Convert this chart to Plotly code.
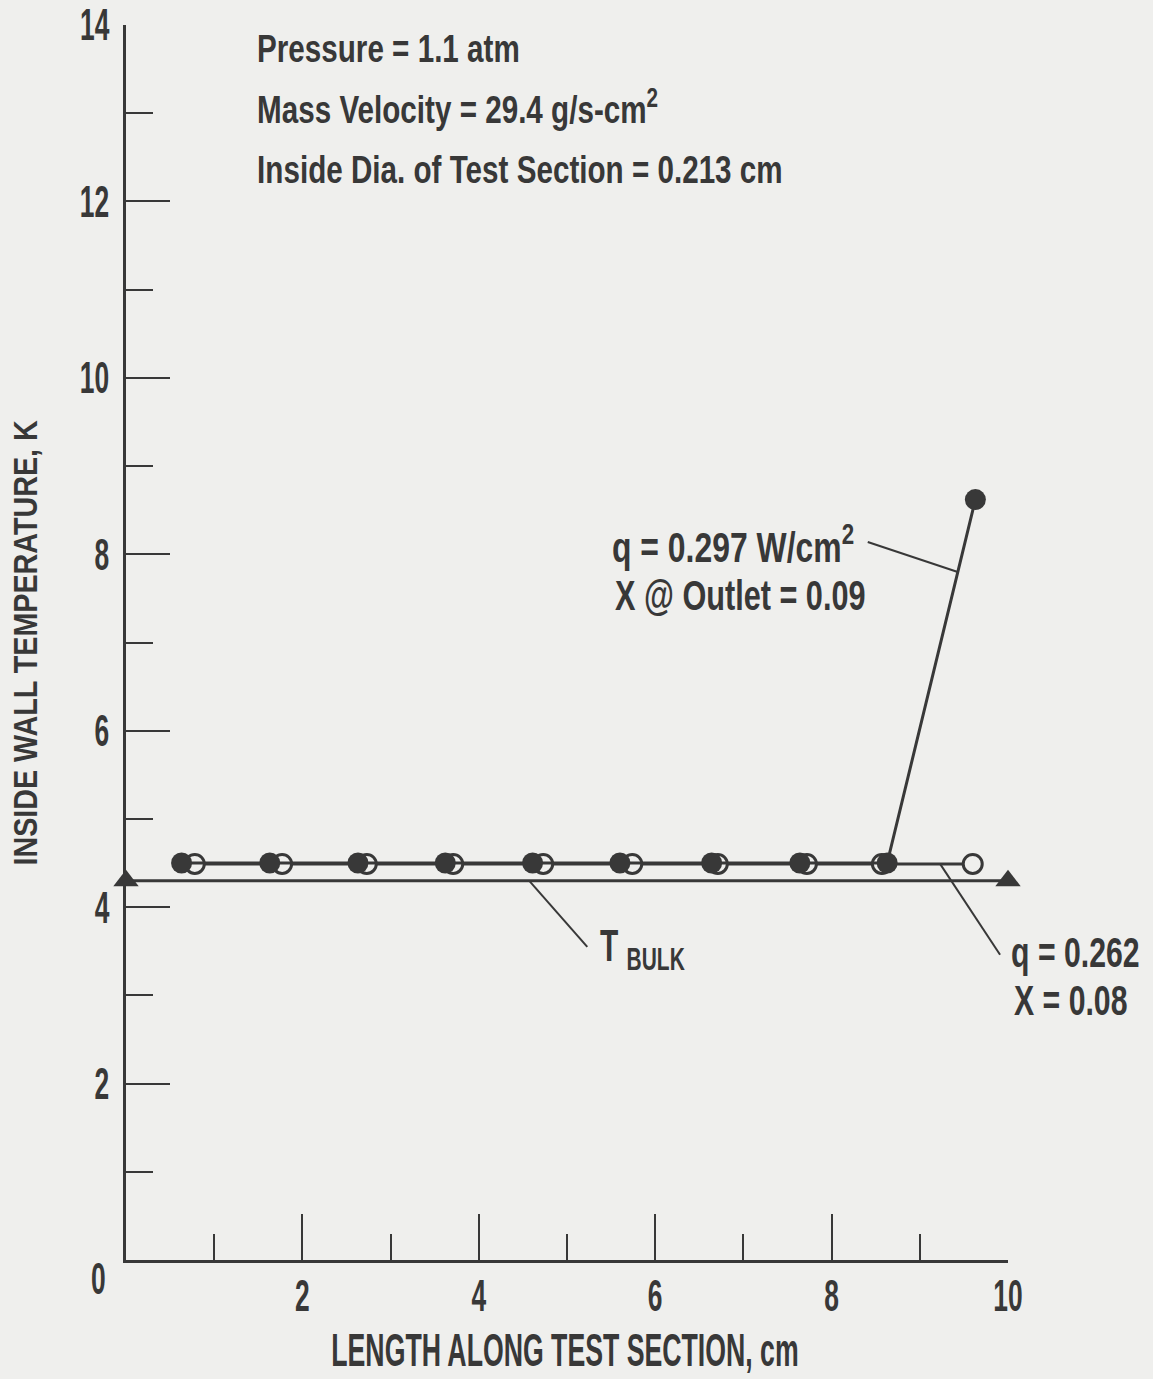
import json
import plotly.graph_objects as go

# ---- data ----
x_q297 = [0.63, 1.63, 2.63, 3.62, 4.61, 5.60, 6.64, 7.64, 8.63, 9.63]
y_q297 = [4.50, 4.50, 4.50, 4.50, 4.50, 4.50, 4.50, 4.50, 4.50, 8.62]

x_q262 = [0.78, 1.77, 2.73, 3.71, 4.73, 5.74, 6.71, 7.72, 8.57, 9.60]
y_q262 = [4.49, 4.49, 4.49, 4.49, 4.49, 4.49, 4.49, 4.49, 4.49, 4.49]

x_bulk = [0.0, 10.0]
y_bulk = [4.30, 4.30]

x_major_ticks = [2, 4, 6, 8, 10]
x_minor_ticks = [1, 3, 5, 7, 9]
y_major_ticks = [2, 4, 6, 8, 10, 12, 14]
y_minor_ticks = [1, 3, 5, 7, 9, 11, 13]

INK = "#383838"
BG = "#efefed"
FONT = "Liberation Sans, Arial, sans-serif"

# plot area in pixels (left, right, top, bottom)
PL, PR, PT, PB = 126, 1008, 25, 1260


def px(xp):
    return (xp - PL) / (PR - PL)


def py(yp):
    return (PB - yp) / (PB - PT)


fig = go.Figure()

# q = 0.262 (open circles) drawn first
fig.add_trace(go.Scatter(
    x=x_q262, y=y_q262, mode="lines+markers",
    line=dict(color=INK, width=3),
    marker=dict(symbol="circle", size=19, color=BG, line=dict(color=INK, width=3)),
    cliponaxis=False, showlegend=False))

# q = 0.297 (filled circles)
fig.add_trace(go.Scatter(
    x=x_q297, y=y_q297, mode="lines+markers",
    line=dict(color=INK, width=3),
    marker=dict(symbol="circle", size=21, color=INK),
    cliponaxis=False, showlegend=False))

# T bulk
fig.add_trace(go.Scatter(
    x=x_bulk, y=y_bulk, mode="lines+markers",
    line=dict(color=INK, width=3),
    marker=dict(symbol="triangle-up", size=22, color=INK),
    cliponaxis=False, showlegend=False))

axis_common = dict(
    showline=True, linecolor=INK, linewidth=3, showgrid=False, zeroline=False,
    ticks="inside", tickcolor=INK, tickwidth=2, automargin=False,
    tickfont=dict(family=FONT, size=44, color=INK, weight="bold"),
)

fig.update_xaxes(
    range=[0, 10], tickmode="array", tickvals=x_major_ticks, ticklen=46,
    minor=dict(tickmode="array", tickvals=x_minor_ticks, ticklen=26, ticks="inside",
               tickcolor=INK, tickwidth=2),
    ticklabelstandoff=-5, **axis_common)
fig.update_yaxes(
    range=[0, 14], tickmode="array", tickvals=y_major_ticks, ticklen=44,
    minor=dict(tickmode="array", tickvals=y_minor_ticks, ticklen=27, ticks="inside",
               tickcolor=INK, tickwidth=2),
    ticklabelstandoff=5, **axis_common)


def txt(text, xp, yp, size=39, xanchor="left", angle=0):
    fig.add_annotation(text=text, x=px(xp), y=py(yp), xref="paper", yref="paper",
                       showarrow=False, xanchor=xanchor, yanchor="middle",
                       textangle=angle,
                       font=dict(family=FONT, size=size, color=INK, weight="bold"))


# header text
txt("Pressure = 1.1 atm", 255, 48)
txt("Mass Velocity = 29.4 g/s-cm<sup>2</sup>", 255, 106)
txt("Inside Dia. of Test Section = 0.213 cm", 255, 169)

# curve labels
txt("q = 0.297 W/cm<sup>2</sup>", 610, 544, size=42)
txt("X @ Outlet = 0.09", 613, 595, size=42)
txt("T <sub>BULK</sub>", 598, 949, size=44)
txt("q = 0.262", 1009, 952, size=42)
txt("X = 0.08", 1012, 1000, size=42)

# origin label and axis titles
txt("0", 98, 1278, size=44, xanchor="center")
txt("LENGTH ALONG TEST SECTION, cm", 565, 1350, size=46, xanchor="center")
txt("INSIDE WALL TEMPERATURE, K", 25, 643, size=33, xanchor="center", angle=-90)

# leader lines
for (x0, y0, x1, y1) in [(8.41, 8.14, 9.43, 7.80),
                         (4.57, 4.30, 5.23, 3.55),
                         (9.23, 4.49, 9.91, 3.46)]:
    fig.add_shape(type="line", x0=x0, y0=y0, x1=x1, y1=y1, xref="x", yref="y",
                  line=dict(color=INK, width=2))

fig.update_layout(
    width=1153, height=1379,
    margin=dict(l=PL, r=1153 - PR, t=PT, b=1379 - PB, autoexpand=False),
    paper_bgcolor=BG, plot_bgcolor=BG,
    showlegend=False,
)

# horizontal condensing of the (condensed-style) lettering of the original
cond = {
    "Pressure": [0.76, "left"],
    "Mass": [0.76, "left"],
    "Inside": [0.76, "left"],
    "q = 0.297": [0.76, "left"],
    "X @": [0.73, "left"],
    "T ": [0.68, "left"],
    "q = 0.262": [0.72, "left"],
    "X = ": [0.72, "left"],
    "0": [0.6, "center"],
    "LENGTH": [0.58, "center"],
    "INSIDE": [0.87, "center"],
}

js = """
var COND = %s;
function condense(){
  var gd = document.querySelector('.plotly-graph-div');
  if(!gd) return;
  gd.querySelectorAll('text').forEach(function(t){
    var cur = t.getAttribute('transform') || '';
    if (t.__condTr !== undefined && t.__condTr === cur) return;
    var s = null, mode = 'center';
    var cls = (t.parentNode && t.parentNode.getAttribute('class')) || '';
    var tc = t.getAttribute('class') || '';
    var content = t.textContent || '';
    if (tc.indexOf('annotation-text') >= 0) {
      for (var k in COND) { if (content.indexOf(k) === 0) { s = COND[k][0]; mode = COND[k][1]; break; } }
    } else if (cls.indexOf('xtick') >= 0) { s = 0.6; mode = 'center'; }
    else if (cls.indexOf('ytick') >= 0) { s = 0.6; mode = 'right'; }
    if (s === null) return;
    var b = t.getBBox();
    if (!b.width) return;
    var ax = mode === 'left' ? b.x : (mode === 'right' ? b.x + b.width : b.x + b.width / 2);
    var tr = cur + ' translate(' + ax + ',0) scale(' + s + ',1) translate(' + (-ax) + ',0)';
    t.setAttribute('transform', tr);
    t.__condTr = t.getAttribute('transform');
  });
}
condense();
var gdd = document.querySelector('.plotly-graph-div');
if (gdd && gdd.on) { gdd.on('plotly_afterplot', condense); }
setTimeout(condense, 30);
setTimeout(condense, 300);
""" % json.dumps(cond)

fig.write_html("out.html", post_script=js)
